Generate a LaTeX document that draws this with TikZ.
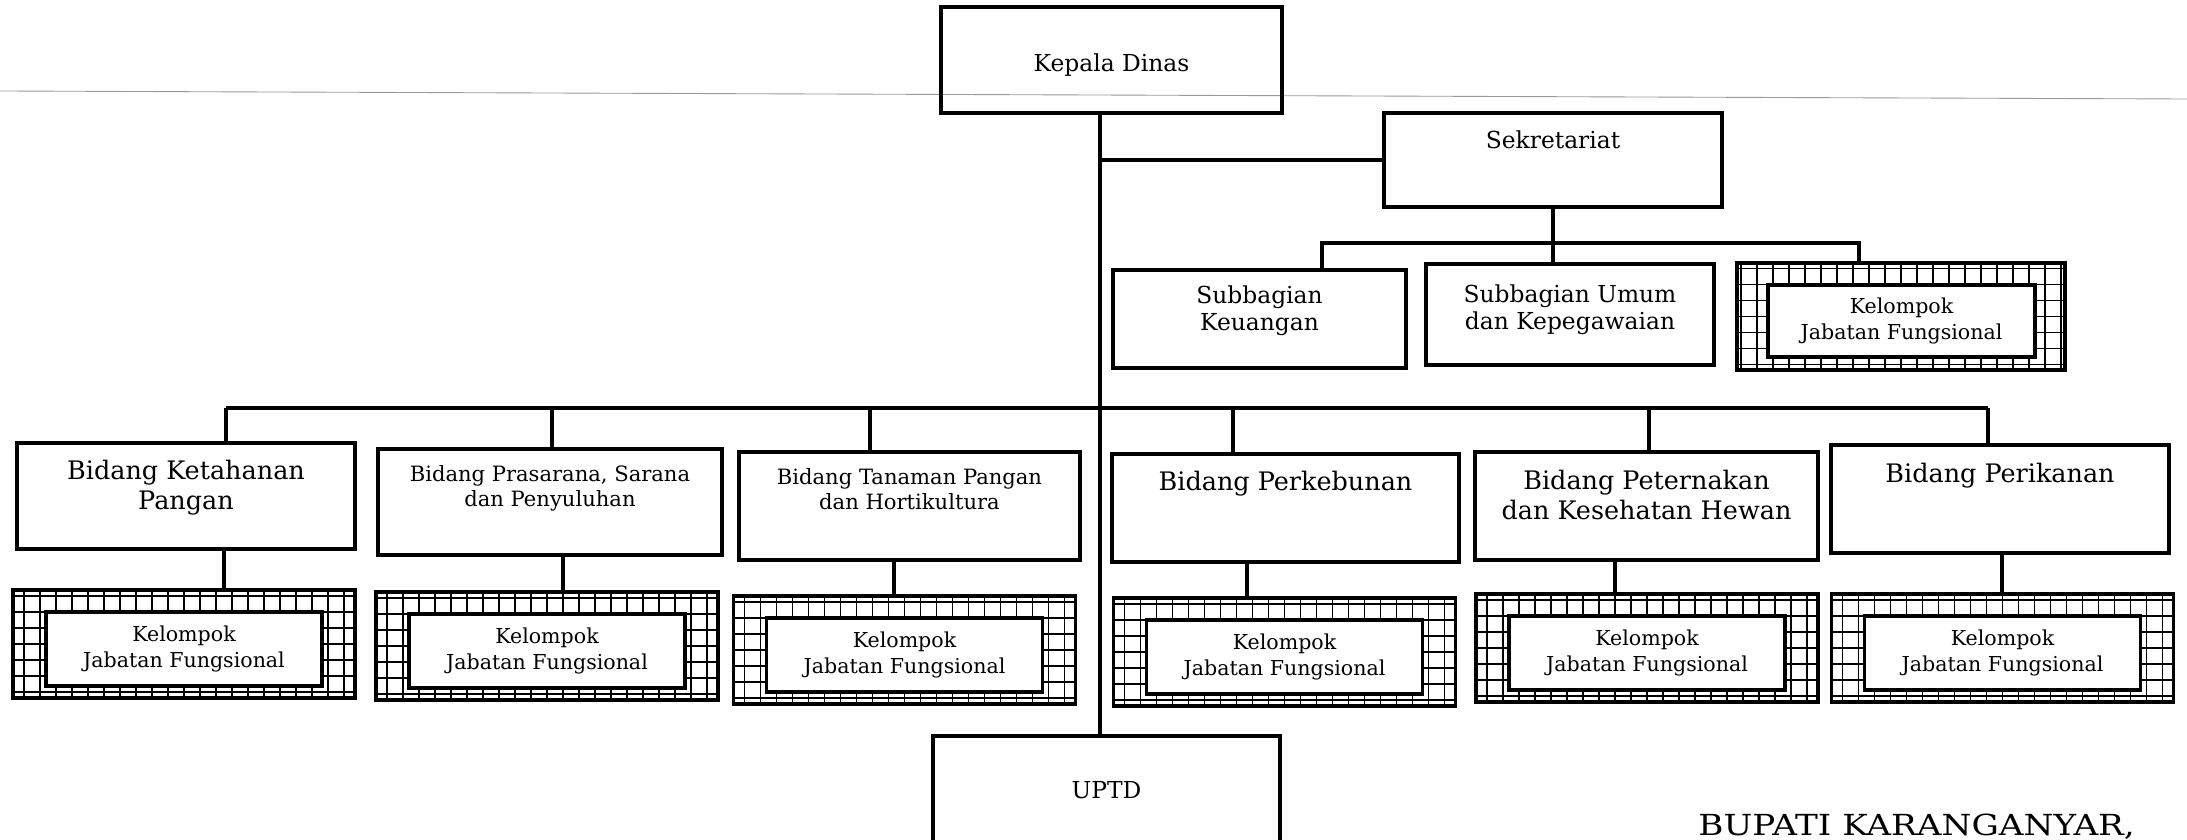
\documentclass[tikz,border=0pt]{standalone}
\usepackage{fontspec}
\setmainfont{DejaVu Serif}
\usetikzlibrary{positioning}

\begin{document}
\begin{tikzpicture}[x=0.2mm,y=-0.2mm,
            kotak/.style={rectangle,draw,line width=2pt,inner sep=0pt},
            teks/.style={align=center,inner sep=0pt},
            besar/.style={font=\fontsize{14.5}{17}\selectfont},
            kecil/.style={font=\fontsize{12}{14.2}\selectfont},
            garis/.style={line width=2pt},
            kjfluar/.style={rectangle,draw,line width=2pt,inner sep=0pt,minimum width=68.4mm,minimum height=21.6mm,
                path picture={\draw[line width=0.8pt,step=3.2mm]
                    (path picture bounding box.south west) grid (path picture bounding box.north east);}},
            kjfdalam/.style={rectangle,draw,fill=white,line width=2pt,inner sep=0pt,minimum width=55.2mm,
                minimum height=14.8mm,align=center,font=\fontsize{11.7}{14.5}\selectfont}]
            \useasboundingbox (0,0) rectangle (2187,840);
            \clip (0,0) rectangle (2187,840);
            \fill[white] (0,0) rectangle (2187,840);
            % garis lipatan hasil pindaian
            \draw[gray!80,line width=0.5pt] (0,91) -- (2187,99);
            % pimpinan
            \node[kotak,minimum width=68.2mm,minimum height=21.2mm] (kd) at (1111.5,60) {};
            \node[teks,font=\fontsize{13.3}{16}\selectfont,below=9.6mm of kd.north] (kdt) {Kepala Dinas};
            \node[kotak,minimum width=67.6mm,minimum height=18.8mm] (sek) at (1553,160) {};
            \node[teks,font=\fontsize{13.3}{16}\selectfont,below=3.8mm of sek.north] (sekt) {Sekretariat};
            \node[kotak,minimum width=58.6mm,minimum height=19.6mm] (keu) at (1259.5,319) {};
            \node[teks,font=\fontsize{13.3}{15.6}\selectfont,below=3.4mm of keu.north] (keut) {Subbagian\\Keuangan};
            \node[kotak,minimum width=57.6mm,minimum height=20.2mm] (umum) at (1570,314.5) {};
            \node[teks,font=\fontsize{13.3}{15.6}\selectfont,below=4.4mm of umum.north] (umumt) {Subbagian Umum\\dan Kepegawaian};
            \node[kjfluar,minimum width=65.6mm,minimum height=21.4mm] (ks) at (1901,316.5) {};
            \node[kjfdalam,minimum width=53.4mm,minimum height=14.4mm] (ksd) at (1901.5,321) {Kelompok\\Jabatan Fungsional};
            % bidang
            \node[kotak,minimum width=67.6mm,minimum height=21.2mm] (b1) at (186,496) {};
            \node[teks,besar,below=3.8mm of b1.north] (b1t) {Bidang Ketahanan\\Pangan};
            \node[kotak,minimum width=68.8mm,minimum height=21.2mm] (b2) at (550,502) {};
            \node[teks,kecil,below=3.6mm of b2.north] (b2t) {Bidang Prasarana, Sarana\\dan Penyuluhan};
            \node[kotak,minimum width=68.2mm,minimum height=21.6mm] (b3) at (909.5,506) {};
            \node[teks,kecil,below=3.6mm of b3.north] (b3t) {Bidang Tanaman Pangan\\dan Hortikultura};
            \node[kotak,minimum width=69.4mm,minimum height=21.6mm] (b4) at (1285.5,508) {};
            \node[teks,besar,below=3.8mm of b4.north] (b4t) {Bidang Perkebunan};
            \node[kotak,minimum width=68.6mm,minimum height=21.6mm] (b5) at (1646.5,506) {};
            \node[teks,besar,below=4mm of b5.north] (b5t) {Bidang Peternakan\\dan Kesehatan Hewan};
            \node[kotak,minimum width=67.6mm,minimum height=21.6mm] (b6) at (2000,499) {};
            \node[teks,besar,below=4mm of b6.north] (b6t) {Bidang Perikanan};
            % kelompok jabatan fungsional
            \node[kjfluar] (k1) at (184,644) {};
            \node[kjfdalam] (k1d) at (184,649) {Kelompok\\Jabatan Fungsional};
            \node[kjfluar] (k2) at (547,646) {};
            \node[kjfdalam] (k2d) at (547,651) {Kelompok\\Jabatan Fungsional};
            \node[kjfluar] (k3) at (904.5,650) {};
            \node[kjfdalam] (k3d) at (904.5,655) {Kelompok\\Jabatan Fungsional};
            \node[kjfluar] (k4) at (1284.5,652) {};
            \node[kjfdalam] (k4d) at (1284.5,657) {Kelompok\\Jabatan Fungsional};
            \node[kjfluar] (k5) at (1647,648) {};
            \node[kjfdalam] (k5d) at (1647,653) {Kelompok\\Jabatan Fungsional};
            \node[kjfluar] (k6) at (2002.5,648) {};
            \node[kjfdalam] (k6d) at (2002.5,653) {Kelompok\\Jabatan Fungsional};
            % uptd dan penanda tangan
            \node[kotak,minimum width=69.4mm,minimum height=25.6mm] (uptd) at (1106.5,800) {};
            \node[teks,font=\fontsize{13.3}{16}\selectfont,below=9.4mm of uptd.north] (uptdt) {UPTD};
            \node[anchor=base west,inner sep=0pt,font=\fontsize{16.5}{20}\selectfont\addfontfeature{FakeStretch=1.18}] (bupati) at (1698,835) {BUPATI KARANGANYAR,};
            % garis komando
            \coordinate (trunk) at (1100,0);
            \draw[garis] (kd.south -| trunk) -- (uptd.north -| trunk);
            \draw[garis] (sek.west -| trunk) -- (sek.west);
            \draw[garis] (sek.south) -- (umum.north -| sek.south);
            \coordinate (sb1) at (1322,243);
            \coordinate (sb3) at (1859,243);
            \draw[garis] (sb1 |- keu.north) -- (sb1) -- (sb3) -- (sb3 |- ks.north);
            \coordinate (bus1) at (226,408);
            \coordinate (bus2) at (552,408);
            \coordinate (bus3) at (870,408);
            \coordinate (bus4) at (1233,408);
            \coordinate (bus5) at (1649,408);
            \coordinate (bus6) at (1988,408);
            \draw[garis] (bus1) -- (bus6);
            \draw[garis] (bus1) -- (bus1 |- b1.north);
            \draw[garis] (bus2) -- (bus2 |- b2.north);
            \draw[garis] (bus3) -- (bus3 |- b3.north);
            \draw[garis] (bus4) -- (bus4 |- b4.north);
            \draw[garis] (bus5) -- (bus5 |- b5.north);
            \draw[garis] (bus6) -- (bus6 |- b6.north);
            \draw[garis] (b1.south -| 224,0) -- (k1.north -| 224,0);
            \draw[garis] (b2.south -| 563,0) -- (k2.north -| 563,0);
            \draw[garis] (b3.south -| 894,0) -- (k3.north -| 894,0);
            \draw[garis] (b4.south -| 1247,0) -- (k4.north -| 1247,0);
            \draw[garis] (b5.south -| 1615,0) -- (k5.north -| 1615,0);
            \draw[garis] (b6.south -| 2002,0) -- (k6.north -| 2002,0);
        \end{tikzpicture}
\end{document}
